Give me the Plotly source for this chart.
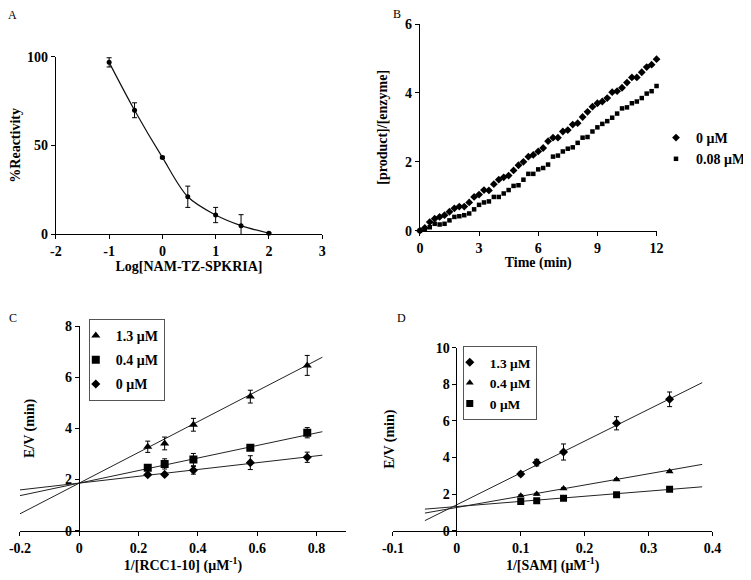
import numpy as np
import plotly.graph_objects as go

W, H = 751, 580
OFF = 8  # default page body margin of the html page
FW, FH = W - OFF, H - OFF

# ---------------- Panel A data ----------------
a_conc = [0.1, 0.3, 1, 3, 10, 30, 100]
a_react = [96.8, 69.8, 43.2, 21.0, 10.7, 4.7, 0.4]
a_err = [2.6, 4.2, 0.6, 6.0, 4.3, 6.2, 0.5]
a_xticks = [-2, -1, 0, 1, 2, 3]
a_yticks = [0, 50, 100]

# ---------------- Panel B data ----------------
b_time = [i * 0.25 for i in range(49)]
b_0uM = [0.00, 0.08, 0.25, 0.35, 0.40, 0.45, 0.55, 0.65, 0.70, 0.70,
         0.82, 0.98, 1.05, 1.18, 1.17, 1.35, 1.48, 1.55, 1.60, 1.75,
         1.90, 2.00, 2.15, 2.20, 2.30, 2.40, 2.60, 2.70, 2.70, 2.88,
         2.92, 3.08, 3.12, 3.30, 3.45, 3.60, 3.70, 3.75, 3.85, 4.02,
         4.05, 4.15, 4.30, 4.45, 4.45, 4.60, 4.75, 4.82, 4.98]
b_008uM = [0.00, 0.05, 0.10, 0.20, 0.18, 0.20, 0.30, 0.40, 0.42, 0.45,
           0.50, 0.62, 0.75, 0.82, 0.85, 0.98, 0.98, 1.08, 1.18, 1.30,
           1.32, 1.48, 1.65, 1.65, 1.78, 1.82, 1.92, 2.15, 2.18, 2.30,
           2.38, 2.42, 2.55, 2.70, 2.72, 2.88, 3.00, 3.10, 3.18, 3.28,
           3.40, 3.55, 3.58, 3.70, 3.75, 3.85, 3.98, 4.05, 4.20]
b_xticks = [0, 3, 6, 9, 12]
b_yticks = [0, 2, 4, 6]

# ---------------- Panel C data ----------------
c_x = [0.231, 0.288, 0.385, 0.577, 0.769]
c_13 = [3.28, 3.41, 4.14, 5.24, 6.46]
c_13_err = [0.22, 0.25, 0.25, 0.25, 0.39]
c_04 = [2.46, 2.61, 2.78, 3.24, 3.83]
c_04_err = [0.05, 0.20, 0.24, 0.05, 0.20]
c_0 = [2.19, 2.20, 2.36, 2.66, 2.87]
c_0_err = [0.05, 0.05, 0.15, 0.27, 0.20]
c_fit_slope = [6.0, 2.45, 1.33]
c_fit_icept = [1.86, 1.86, 1.86]
c_fit_x = [-0.2, 0.82]
c_xticks = [-0.2, 0, 0.2, 0.4, 0.6, 0.8]
c_xlabels = ["-0.2", "0", "0.2", "0.4", "0.6", "0.8"]
c_yticks = [0, 2, 4, 6, 8]

# ---------------- Panel D data ----------------
d_x = [0.1, 0.125, 0.167, 0.25, 0.333]
d_13 = [3.10, 3.72, 4.30, 5.87, 7.18]
d_13_err = [0.10, 0.18, 0.44, 0.36, 0.40]
d_04 = [1.91, 2.00, 2.30, 2.80, 3.24]
d_04_err = [0.05, 0.05, 0.05, 0.05, 0.05]
d_0 = [1.60, 1.64, 1.77, 1.97, 2.26]
d_0_err = [0.05, 0.05, 0.10, 0.10, 0.05]
d_fit_slope = [17.37, 6.13, 2.81]
d_fit_icept = [1.42, 1.27, 1.32]
d_fit_x = [-0.05, 0.384]
d_xticks = [-0.1, 0, 0.1, 0.2, 0.3, 0.4]
d_xlabels = ["-0.1", "0", "0.1", "0.2", "0.3", "0.4"]
d_yticks = [0, 2, 4, 6, 8, 10]

FONT = "Liberation Serif"
BOLD = dict(family=FONT, size=14, color="black", weight="bold")


def px_x(p):
    return (p - OFF) / FW


def px_y(p):
    return 1 - (p - OFF) / FH


def bold_labels(vals):
    return ["<b>%s</b>" % v for v in vals]


fig = go.Figure()

# ---- Panel A ----
fig.add_trace(go.Scatter(
    x=np.log10(a_conc), y=a_react, mode="lines",
    line=dict(color="#111", width=1.2, shape="spline", smoothing=0.9),
    xaxis="x", yaxis="y", showlegend=False, hoverinfo="skip"))
fig.add_trace(go.Scatter(
    x=np.log10(a_conc), y=a_react, mode="markers",
    marker=dict(symbol="circle", size=5, color="black"),
    error_y=dict(type="data", array=a_err, color="black", thickness=1, width=2.5),
    xaxis="x", yaxis="y", showlegend=False, cliponaxis=False))

# ---- Panel B ----
fig.add_trace(go.Scatter(
    x=b_time, y=b_0uM, mode="markers", name="0 μM",
    marker=dict(symbol="diamond", size=6, color="black"),
    xaxis="x2", yaxis="y2", legend="legend", legendgroup="b0", cliponaxis=False))
fig.add_trace(go.Scatter(
    x=b_time, y=b_008uM, mode="markers", name="0.08 μM",
    marker=dict(symbol="square", size=4.5, color="black"),
    xaxis="x2", yaxis="y2", legend="legend", legendgroup="b1", cliponaxis=False))

# ---- Panel C ----
c_series = [("1.3 μM", c_13, c_13_err, "triangle-up", 8),
            ("0.4 μM", c_04, c_04_err, "square", 8),
            ("0 μM", c_0, c_0_err, "diamond", 7)]
for i in range(3):
    fx = np.array(c_fit_x)
    fig.add_trace(go.Scatter(
        x=fx, y=c_fit_icept[i] + c_fit_slope[i] * fx, mode="lines",
        line=dict(color="#222", width=1), xaxis="x3", yaxis="y3",
        showlegend=False, hoverinfo="skip"))
for i, (nm, ys, es, sym, sz) in enumerate(c_series):
    fig.add_trace(go.Scatter(
        x=c_x, y=ys, mode="markers", name=nm,
        marker=dict(symbol=sym, size=sz, color="black"),
        error_y=dict(type="data", array=es, color="black", thickness=1, width=2.5),
        xaxis="x3", yaxis="y3", legend="legend2", legendgroup="c%d" % i))

# ---- Panel D ----
d_series = [("1.3 μM", d_13, d_13_err, "diamond", 7),
            ("0.4 μM", d_04, d_04_err, "triangle-up", 7),
            ("0 μM", d_0, d_0_err, "square", 7)]
for i in range(3):
    fx = np.array(d_fit_x)
    fig.add_trace(go.Scatter(
        x=fx, y=d_fit_icept[i] + d_fit_slope[i] * fx, mode="lines",
        line=dict(color="#222", width=1), xaxis="x4", yaxis="y4",
        showlegend=False, hoverinfo="skip"))
for i, (nm, ys, es, sym, sz) in enumerate(d_series):
    fig.add_trace(go.Scatter(
        x=d_x, y=ys, mode="markers", name=nm,
        marker=dict(symbol=sym, size=sz, color="black"),
        error_y=dict(type="data", array=es, color="black", thickness=1, width=2.5),
        xaxis="x4", yaxis="y4", legend="legend3", legendgroup="d%d" % i))

axis_common = dict(showline=True, linecolor="black", linewidth=1, ticks="outside",
                   ticklen=4, tickwidth=1, tickcolor="black", showgrid=False,
                   zeroline=False, tickfont=BOLD, mirror=False, automargin=False)

title_font = dict(family=FONT, size=14, color="black", weight="bold")

fig.update_layout(
    width=FW, height=FH, margin=dict(l=0, r=0, t=0, b=0),
    paper_bgcolor="white", plot_bgcolor="white", template="none",
    font=dict(family=FONT, color="black"),
    # Panel A
    xaxis=dict(domain=[px_x(56), px_x(323)], range=[-2, 3], tickvals=a_xticks,
               ticktext=bold_labels(a_xticks),
               anchor="y", title=dict(text="Log[NAM-TZ-SPKRIA]", font=title_font, standoff=2),
               **axis_common),
    yaxis=dict(domain=[px_y(234), px_y(56.7)], range=[0, 100], tickvals=a_yticks,
               ticktext=bold_labels(a_yticks),
               anchor="x", title=dict(text="%Reactivity", font=title_font, standoff=6),
               **axis_common),
    # Panel B
    xaxis2=dict(domain=[px_x(421), px_x(658.3)], range=[0, 12], tickvals=b_xticks,
                ticktext=bold_labels(b_xticks),
                anchor="y2", title=dict(text="Time (min)", font=title_font, standoff=2),
                **axis_common),
    yaxis2=dict(domain=[px_y(230.7), px_y(24)], range=[0, 6], tickvals=b_yticks,
                ticktext=bold_labels(b_yticks),
                anchor="x2", title=dict(text="[product]/[enzyme]", font=title_font, standoff=14),
                **axis_common),
    # Panel C
    xaxis3=dict(domain=[px_x(20), px_x(347)], range=[-0.2, 0.9],
                tickvals=c_xticks, ticktext=bold_labels(c_xlabels),
                anchor="y3", title=dict(text="1/[RCC1-10] (μM<sup>-1</sup>)", font=title_font, standoff=0),
                **axis_common),
    yaxis3=dict(domain=[px_y(530.7), px_y(326)], range=[0, 8], tickvals=c_yticks,
                ticktext=bold_labels(c_yticks),
                anchor="free", position=px_x(79),
                title=dict(text="E/V (min)", font=title_font, standoff=26),
                **axis_common),
    # Panel D
    xaxis4=dict(domain=[px_x(394), px_x(714.3)], range=[-0.1, 0.4],
                tickvals=d_xticks, ticktext=bold_labels(d_xlabels),
                anchor="y4", title=dict(text="1/[SAM] (μM<sup>-1</sup>)", font=title_font, standoff=0),
                **axis_common),
    yaxis4=dict(domain=[px_y(530.7), px_y(347.7)], range=[0, 10], tickvals=d_yticks,
                ticktext=bold_labels(d_yticks),
                anchor="free", position=px_x(457.7),
                title=dict(text="E/V (min)", font=title_font, standoff=36),
                **axis_common),
    legend=dict(x=px_x(672), y=px_y(122), xanchor="left", yanchor="top",
                font=BOLD, bgcolor="rgba(0,0,0,0)", borderwidth=0,
                tracegroupgap=0, indentation=-14, itemwidth=30),
    legend2=dict(x=px_x(89), y=px_y(319), xanchor="left", yanchor="top",
                 font=BOLD, bgcolor="white", bordercolor="#555", borderwidth=1,
                 tracegroupgap=3, indentation=-14, itemwidth=30),
    legend3=dict(x=px_x(464), y=px_y(346), xanchor="left", yanchor="top",
                 font=dict(family=FONT, size=13.5, color="black", weight="bold"),
                 bgcolor="white", bordercolor="#555", borderwidth=1,
                 tracegroupgap=0, indentation=-14, itemwidth=30),
)

for label, x, y in [("A", 12.7, 15), ("B", 398, 14), ("C", 13, 318), ("D", 403, 318)]:
    fig.add_annotation(text=label, x=px_x(x), y=px_y(y), xref="paper", yref="paper",
                       showarrow=False, xanchor="center", yanchor="middle",
                       font=dict(family=FONT, size=12, color="black"))

fig.write_html("out.html")
